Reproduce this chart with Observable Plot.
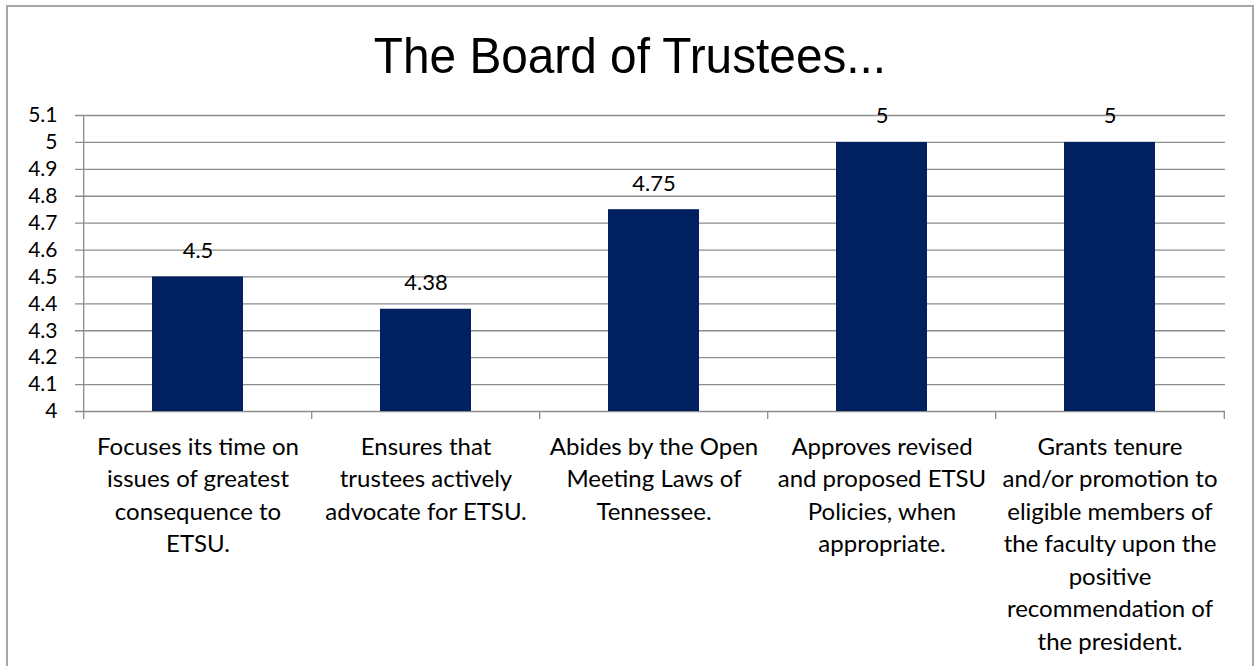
<!DOCTYPE html>
<html><head><meta charset="utf-8">
<script src="https://cdn.jsdelivr.net/npm/d3@7"></script>
<script src="https://cdn.jsdelivr.net/npm/@observablehq/plot@0.6"></script>
<style>
html,body{margin:0;padding:0;background:#fff;}
#wrap{position:relative;width:1256px;height:666px;overflow:hidden;}
#frame{position:absolute;left:6px;top:5px;width:1248px;height:700px;border:2px solid #a6a6a6;box-sizing:border-box;}
#title{position:absolute;left:0;width:1260px;top:28px;text-align:center;font-family:"Liberation Sans",Arial,sans-serif;font-size:50px;line-height:56px;color:#000;transform:scaleX(0.955);transform-origin:630px 0;}
#chart{position:absolute;left:0;top:0;}
</style></head><body>
<div id="wrap"><div id="frame"></div><div id="title">The Board of Trustees...</div><div id="chart"></div></div>
<script>
const categories = [
  "Focuses its time on\nissues of greatest\nconsequence to\nETSU.",
  "Ensures that\ntrustees actively\nadvocate for ETSU.",
  "Abides by the Open\nMeeting Laws of\nTennessee.",
  "Approves revised\nand proposed ETSU\nPolicies, when\nappropriate.",
  "Grants tenure\nand/or promotion to\neligible members of\nthe faculty upon the\npositive\nrecommendation of\nthe president."
];
const values = [4.5, 4.38, 4.75, 5, 5];
const valueLabels = ["4.5", "4.38", "4.75", "5", "5"];
const yTicks = [4, 4.1, 4.2, 4.3, 4.4, 4.5, 4.6, 4.7, 4.8, 4.9, 5, 5.1];
const yTickLabels = ["4", "4.1", "4.2", "4.3", "4.4", "4.5", "4.6", "4.7", "4.8", "4.9", "5", "5.1"];

const data = categories.map((c, i) => ({category: c, value: values[i], label: valueLabels[i]}));
const W = 1256, H = 666, mL = 82, mR = 31, mT = 115, mB = 255;
const step = (W - mL - mR) / categories.length;
const yMin = yTicks[0], yMax = yTicks[yTicks.length - 1];
const grid = "#8c8c8c";

const chart = Plot.plot({
  width: W, height: H,
  marginLeft: mL, marginRight: mR, marginTop: mT, marginBottom: mB,
  style: {fontFamily: "Lato, 'Open Sans', sans-serif", fontSize: "21px", color: "#000", background: "transparent", overflow: "visible"},
  x: {domain: categories, paddingInner: 0.6, paddingOuter: 0.3, axis: null},
  y: {domain: [yMin, yMax], axis: null},
  marks: [
    Plot.ruleY(yTicks, {y: d => d, stroke: grid, strokeWidth: 1.3, insetLeft: -7}),
    Plot.ruleX([categories[0]], {x: d => d, dx: -step / 2, y1: yMin, y2: yMax, stroke: grid, strokeWidth: 1.3}),
    Plot.ruleX(categories, {x: d => d, dx: -step / 2, y1: yMin, y2: yMin, insetBottom: -8, stroke: grid, strokeWidth: 1.3}),
    Plot.ruleX([categories[categories.length - 1]], {x: d => d, dx: step / 2, y1: yMin, y2: yMin, insetBottom: -8, stroke: grid, strokeWidth: 1.3}),
    Plot.barY(data, {x: "category", y1: yMin, y2: "value", fill: "#002060"}),
    Plot.text(data, {x: "category", y: "value", text: "label", dy: -26, fontSize: 22, fill: "#000"}),
    Plot.axisY(yTicks, {label: null, tickSize: 0, tickPadding: 25, fontSize: 21, tickFormat: d => yTickLabels[yTicks.indexOf(d)]}),
    Plot.text(categories, {x: d => d, frameAnchor: "bottom", lineAnchor: "top", dy: 20, lineHeight: 1.354, text: d => d, fontSize: 24, fill: "#000"})
  ]
});
document.getElementById("chart").appendChild(chart);
</script>
</body></html>
